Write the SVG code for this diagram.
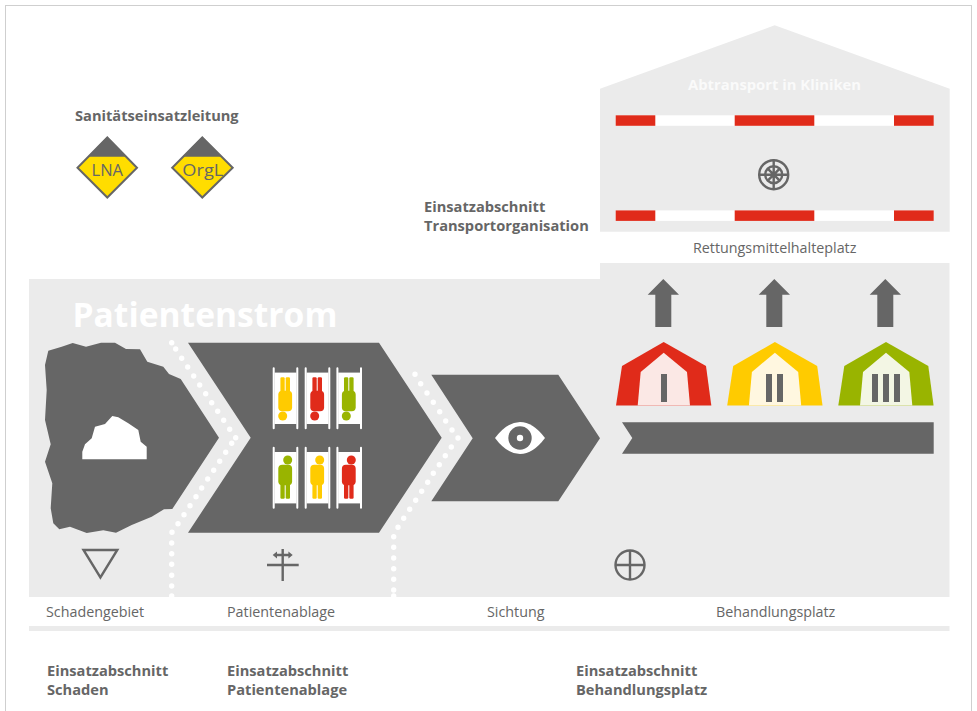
<svg xmlns="http://www.w3.org/2000/svg" xmlns:xlink="http://www.w3.org/1999/xlink" width="977" height="711" viewBox="0 0 977 711">
<style>
text{font-family:"Open Sans","Noto Sans","Liberation Sans",sans-serif;fill:#666}
.b{font-weight:700;font-size:14.65px}
.l{font-size:14.3px}
.bg{fill:#ebebeb}
.d{fill:#666}
.dots{fill:none;stroke:#fff;stroke-width:5.4;stroke-linecap:round}
.w{fill:#fff}
.r{fill:#e02b1a}
.ic{fill:none;stroke:#666;stroke-width:2.4}
</style>
<defs>
<g id="stretcher">
<rect x="-11" y="-25.7" width="22" height="51.4" fill="#fff"/>
<path d="M-11.8-30V30M11.8-30V30" stroke="#fff" stroke-width="2" stroke-linecap="round" fill="none"/>
</g>
<g id="person">
<circle cx="2.5" cy="0" r="4.5"/>
<rect x="-6.9" y="4.7" width="13.8" height="20.6" rx="4"/>
<rect x="-4.8" y="23" width="4.3" height="15.7" rx="1.2"/>
<rect x="0.5" y="23" width="4.3" height="15.7" rx="1.2"/>
</g>
<polygon id="uparrow" points="663.3,279 679,294.7 671.3,294.7 671.3,327 655.3,327 655.3,294.7 647.7,294.7" fill="#666"/>
<g id="barrier">
<rect x="615.7" y="0" width="318" height="10.5" fill="#fff"/>
<rect x="615.7" y="0" width="39.6" height="10.5" class="r"/>
<rect x="734.7" y="0" width="79.6" height="10.5" class="r"/>
<rect x="894" y="0" width="39.7" height="10.5" class="r"/>
</g>
<polygon id="tentOuter" points="616,405.5 622,366 663.7,342 706,366 711.3,405.5"/>
<polygon id="tentInner" points="637.7,405.5 640.7,372 663.7,352.7 687,372 690,405.5"/>
</defs>

<rect x="5.5" y="5.5" width="966" height="720" fill="#fff" stroke="#cfcfcf"/>

<g id="area-background">
<path class="bg" d="M29 279H600V263H949.5V597H29Z"/>
<rect class="bg" x="29" y="626" width="920.5" height="5"/>
</g>

<g id="transport">
<polygon class="bg" points="600,88.7 774.7,25.3 949.7,88.7 949.7,231.7 600,231.7"/>
<text x="688" y="90" font-size="14.8" font-weight="700" style="fill:#fff;fill-opacity:.75">Abtransport in Kliniken</text>
<use href="#barrier" y="115.3"/>
<use href="#barrier" y="210.4"/>
<g id="transport-icon">
<circle class="ic" cx="773.7" cy="174.7" r="14.5"/>
<circle class="ic" cx="773.7" cy="174.7" r="8.5"/>
<path class="ic" stroke-width="1.6" d="M773.7 159.5V190M758.5 174.7H789M767.7 168.7L779.7 180.7M779.7 168.7L767.7 180.7"/>
<circle class="d" cx="773.7" cy="174.7" r="2.5"/>
</g>
<text class="l" x="693" y="253">Rettungsmittelhalteplatz</text>
</g>

<g id="leitung">
<text class="b" x="75" y="121">Sanitätseinsatzleitung</text>
<g id="lna">
<polygon points="107.3,137.5 137,167.7 107.3,197.5 77.5,167.7" fill="#ffdd00" stroke="#666" stroke-width="2"/>
<polygon class="d" points="107.3,136.7 88,156.7 126.6,156.7"/>
<text x="107.3" y="175.5" font-size="16.5" text-anchor="middle">LNA</text>
</g>
<g id="orgl">
<polygon points="202.3,137.5 232.7,167.7 202.3,197.5 172.2,167.7" fill="#ffdd00" stroke="#666" stroke-width="2"/>
<polygon class="d" points="202.3,136.7 183,156.7 221.6,156.7"/>
<text x="202.8" y="175.5" font-size="16.5" text-anchor="middle" textLength="41" lengthAdjust="spacingAndGlyphs">OrgL</text>
</g>
</g>

<text class="b" x="424" y="212">Einsatzabschnitt</text>
<text class="b" x="424" y="231">Transportorganisation</text>

<text x="72.5" y="327" font-size="33.6" font-weight="700" style="fill:#fff">Patientenstrom</text>

<g id="schadengebiet">
<polygon class="d" points="48.3,350.7 61.7,346.7 72.7,343 86,346.7 101,342.7 115,342.7 126,349 140,349.3 147.3,361.7 163.3,366.7 169,374 180.7,379 219,437.7 172.3,509 164,509.3 151.7,516.7 131.7,525 116,532.7 103.3,530.3 86.7,533 70,526.7 59.3,529.3 53.3,523.3 50.7,508.3 52.3,483.3 45,461.7 50.7,444.3 45,420 46.7,390 45,365"/>
<polygon class="w" points="82.3,459.3 146.7,459.3 146.7,446.7 140.7,441.7 138.3,430 128.3,423.3 118.3,417.3 112.3,416 105,424 95,426.7 91.7,438.3 85,444.3 82.3,451.7"/>
<polygon class="ic" points="83.5,550 117.3,550 100.4,577.5"/>
<text class="l" x="46" y="617">Schadengebiet</text>
</g>

<g id="patientenablage">
<polygon class="d" points="188,342.7 379,342.7 441.7,437.7 379,532.7 188,532.7 250.7,437.7"/>
<use href="#stretcher" x="285.5" y="398.3"/>
<use href="#stretcher" x="317.5" y="398.3"/>
<use href="#stretcher" x="349.2" y="398.3"/>
<use href="#stretcher" x="285.5" y="477.7"/>
<use href="#stretcher" x="317.5" y="477.7"/>
<use href="#stretcher" x="349.2" y="477.7"/>
<use href="#person" transform="translate(285.2 416) rotate(180)" fill="#ffcb00"/>
<use href="#person" transform="translate(317.2 416) rotate(180)" fill="#e02b1a"/>
<use href="#person" transform="translate(348.8 416) rotate(180)" fill="#99b400"/>
<use href="#person" x="285.2" y="460" fill="#99b400"/>
<use href="#person" x="317.2" y="460" fill="#ffcb00"/>
<use href="#person" x="348.8" y="460" fill="#e02b1a"/>
<path class="ic" d="M282.7 549V581M267 565H298.7M276 555H289.5"/>
<path class="d" d="M272.7 555L277 551.5V558.5ZM292.7 555L288.4 551.5V558.5Z"/>
<text class="l" x="227" y="617">Patientenablage</text>
</g>

<g id="sichtung">
<polygon class="d" points="431.3,374.7 558.3,374.7 600,438.3 558.3,501.3 431.3,501.3 472.7,438.3"/>
<path class="w" d="M495 438Q507 422 520 422Q533 422 545 438Q533 454 520 454Q507 454 495 438Z"/>
<circle class="d" cx="520" cy="438" r="11.7"/>
<circle class="w" cx="520" cy="438" r="3.2"/>
<text class="l" x="487" y="617">Sichtung</text>
</g>

<g id="behandlungsplatz">
<use href="#uparrow"/><use href="#uparrow" x="111"/><use href="#uparrow" x="222"/>
<use href="#tentOuter" fill="#e02b1a"/><use href="#tentInner" fill="#fbe8e5"/>
<use href="#tentOuter" x="111.2" fill="#ffcb00"/><use href="#tentInner" x="111.2" fill="#fff7e0"/>
<use href="#tentOuter" x="222.3" fill="#99b400"/><use href="#tentInner" x="222.3" fill="#f3f6e4"/>
<path class="d" d="M661 374h6v28h-6zM766 374h6v28h-6zM777 374h6v28h-6zM872 374h6v28h-6zM883 374h6v28h-6zM894 374h6v28h-6z"/>
<polygon class="d" points="622,422.3 933.7,422.3 933.7,453.7 622,453.7 632.3,438"/>
<circle class="ic" cx="630" cy="565" r="14.5"/>
<path class="ic" d="M630 550V580M615 565H645"/>
<text class="l" x="716" y="617">Behandlungsplatz</text>
</g>

<g id="connectors">
<path class="dots" d="M171.7 342.7h0M175.7 349h0M181.7 358.3h0M187.7 367h0M193.7 376h0M199.7 385h0M205.7 393.7h0M211.7 402.7h0M217.7 411.3h0M223.7 420.3h0M229.7 429.3h0M235.7 437.7h0M231.7 443.3h0M225.7 452.3h0M219.7 461.3h0M213.7 470.3h0M207.7 479h0M201.7 488h0M196 496.7h0M190 505.7h0M184 514.7h0M178 523.7h0M172 532.3h0M171.7 543h0M171.7 553.7h0M171.7 564.3h0M171.7 575.3h0M171.7 586h0M171.7 596h0"/>
<path class="dots" d="M415 374.3h0M420.7 383.7h0M427 393h0M433.3 402.3h0M439.7 411.7h0M445.7 421h0M452 430h0M458 438h0M451.3 447h0M445.3 455.7h0M439.3 464.7h0M433.3 473.3h0M427.7 482.3h0M421.7 491.3h0M415.7 500.3h0M409.7 509.3h0M403.7 518.3h0M398 527.3h0M393.7 536.7h0M393.7 547.3h0M393.7 558h0M393.7 568.7h0M393.7 579.3h0M393.7 590h0M393.7 596h0"/>
</g>

<g id="abschnitte">
<text class="b" x="47" y="676">Einsatzabschnitt</text>
<text class="b" x="47" y="695">Schaden</text>
<text class="b" x="227" y="676">Einsatzabschnitt</text>
<text class="b" x="227" y="695">Patientenablage</text>
<text class="b" x="576" y="676">Einsatzabschnitt</text>
<text class="b" x="576" y="695">Behandlungsplatz</text>
</g>
</svg>
